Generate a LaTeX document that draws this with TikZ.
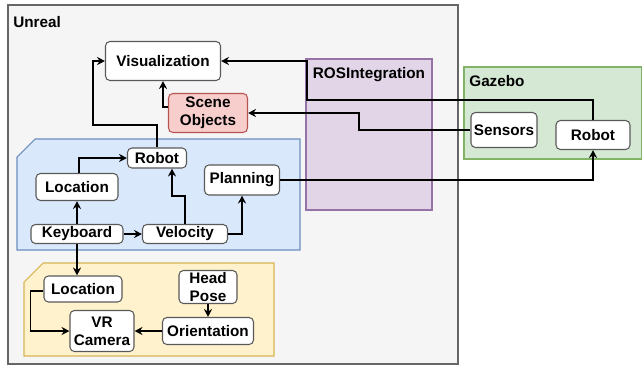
\documentclass[tikz,border=0pt]{standalone}
\usepackage{fontspec}
\setmainfont{Liberation Sans}
\usetikzlibrary{arrows.meta}

\definecolor{unrealfill}{HTML}{F5F5F5}
\definecolor{unrealline}{HTML}{666666}
\definecolor{rosfill}{HTML}{E1D5E7}
\definecolor{rosline}{HTML}{9673A6}
\definecolor{gazfill}{HTML}{D5E8D4}
\definecolor{gazline}{HTML}{82B366}
\definecolor{ctrlfill}{HTML}{DAE8FC}
\definecolor{ctrlline}{HTML}{6C8EBF}
\definecolor{vrfill}{HTML}{FFF2CC}
\definecolor{vrline}{HTML}{D6B656}
\definecolor{scenefill}{HTML}{F8CECC}
\definecolor{sceneline}{HTML}{B85450}

\begin{document}
\begin{tikzpicture}[
    x=0.02cm, y=-0.02cm,
    every node/.style={font=\fontsize{8.7}{10.4}\selectfont\bfseries, align=center, inner sep=0pt},
    block/.style={rectangle, draw=black!65, fill=white, line width=0.6pt, rounded corners=2.5pt},
    arr/.style={-{Stealth[length=4.5pt,width=4.5pt]}, line width=0.85pt}
]

\useasboundingbox (0,0) rectangle (642,369);

% groups
\draw[fill=unrealfill, draw=unrealline, line width=1.1pt] (8,5) rectangle (458,364);
\draw[fill=rosfill, draw=rosline, line width=0.9pt] (306,59) rectangle (432,210);
\draw[fill=gazfill, draw=gazline, line width=0.6pt] (464,67) rectangle (641.5,159);
\draw[fill=ctrlfill, draw=ctrlline, line width=0.6pt] (17,157) -- (35,139) -- (300,139) -- (300,250) -- (17,250) -- cycle;
\draw[fill=vrfill, draw=vrline, line width=0.6pt] (24,282) -- (43,263) -- (274,263) -- (274,356) -- (24,356) -- cycle;

\node[anchor=west] (unreal) at (13,22) {Unreal};
\node (ros) at (369,75) {ROSIntegration};
\node[anchor=west] (gazebo) at (469,81) {Gazebo};

% blocks
\node[block, minimum width=2.3cm, minimum height=0.78cm] (vis) at (163,61) {Visualization};
\node[block, fill=scenefill, draw=sceneline, minimum width=1.58cm, minimum height=0.78cm] (scene) at (208,113) {Scene\\Objects};
\node[block, minimum width=1.18cm, minimum height=0.4cm] (urobot) at (157,158) {Robot};
\node[block, minimum width=1.64cm, minimum height=0.54cm] (bloc) at (77,187) {Location};
\node[block, minimum width=1.5cm, minimum height=0.6cm] (plan) at (242,180) {Planning};
\node[block, minimum width=1.84cm, minimum height=0.38cm] (kbd) at (77,234) {Keyboard};
\node[block, minimum width=1.7cm, minimum height=0.38cm] (vel) at (185,234) {Velocity};
\node[block, minimum width=1.56cm, minimum height=0.52cm] (yloc) at (83,289) {Location};
\node[block, minimum width=1.16cm, minimum height=0.66cm] (head) at (208,287) {Head\\Pose};
\node[block, minimum width=1.28cm, minimum height=0.82cm] (vr) at (102,331) {VR\\Camera};
\node[block, minimum width=1.82cm, minimum height=0.54cm] (orient) at (208,331) {Orientation};
\node[block, minimum width=1.32cm, minimum height=0.7cm] (sens) at (504,130) {Sensors};
\node[block, minimum width=1.48cm, minimum height=0.58cm] (grobot) at (593,135) {Robot};

% connectors
\draw[arr] (grobot.north) |- (307,100) |- (vis.east);
\draw[arr] (sens.west) -| (359,113) -- (scene.east);
\draw[arr] ([yshift=0.12cm]scene.west) -| (vis.south);
\draw[arr] (urobot.north) |- (93,125) |- (vis.west);
\draw[arr] ([xshift=0.04cm]bloc.north) |- (urobot.west);
\draw[arr] (kbd) -- (bloc);
\draw[arr] (kbd) -- (vel);
\draw[arr] (vel.north) -- ++(0,-28) -| ([xshift=0.3cm]urobot.south);
\draw[arr] (vel.east) -| (plan.south);
\draw[arr] (plan.east) -| (grobot.south);
\draw[arr] (kbd.south) -- (kbd.south |- yloc.north);
\draw[arr] ([yshift=-0.04cm]yloc.west) -- ++(-13,0) |- (vr.west);
\draw[arr] (head) -- (orient);
\draw[arr] (orient) -- (vr);

\end{tikzpicture}
\end{document}
